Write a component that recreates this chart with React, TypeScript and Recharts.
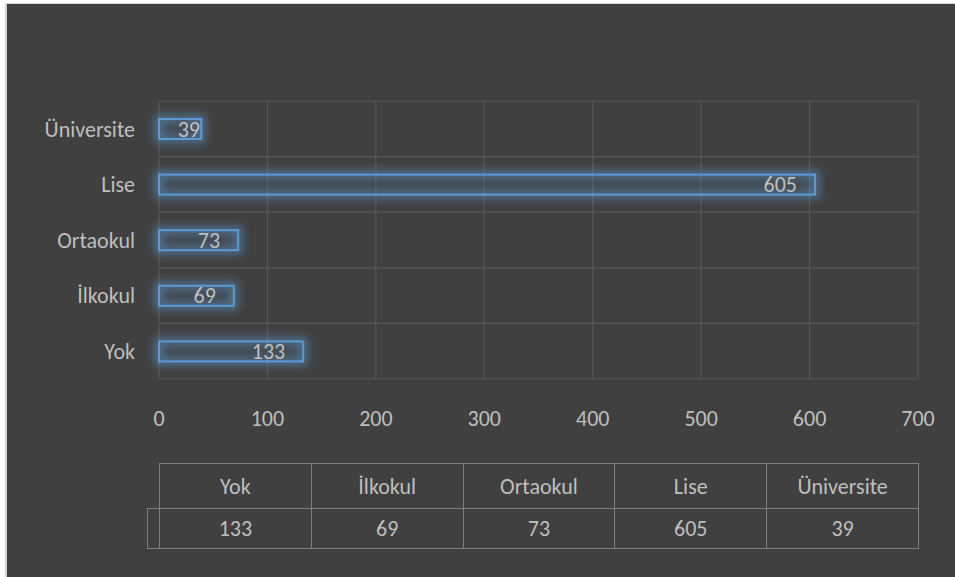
import { Bar, BarChart, CartesianGrid, LabelList, XAxis, YAxis } from "recharts";

const categories = ["Yok", "İlkokul", "Ortaokul", "Lise", "Üniversite"];
const counts = [133, 69, 73, 605, 39];
const xTicks = [0, 100, 200, 300, 400, 500, 600, 700];

const data = categories.map((name, i) => ({ name, value: counts[i] }));

const FONT = "Carlito, Calibri, Lato, sans-serif";
const FONT_SIZE = 22;
const TEXT = "#bfbfbf";
const BLUE = "#5b9bd5";
const GRID = "#575757";
const TABLE_LINE = "#808080";

// outlined bar with a soft blue glow, like the office "glow" effect
function GlowBar(props: any) {
  const { x, y, width, height } = props;
  if (!width || width <= 0) return null;
  return (
    <g>
      <defs>
        <filter id="barGlow" x="-40%" y="-200%" width="180%" height="500%">
          <feGaussianBlur stdDeviation="4" />
        </filter>
      </defs>
      <rect
        x={x}
        y={y}
        width={width}
        height={height}
        fill="none"
        stroke={BLUE}
        strokeWidth={9}
        strokeOpacity={0.5}
        filter="url(#barGlow)"
      />
      <rect
        x={x}
        y={y}
        width={width}
        height={height}
        fill={BLUE}
        fillOpacity={0.06}
        stroke={BLUE}
        strokeWidth={2}
      />
    </g>
  );
}

function EndLabel(props: any) {
  const { x, y, width, height, value } = props;
  const textW = String(value).length * 12;
  const end = Math.max(x + width - 18, x + 17 + textW);
  return (
    <text
      x={end}
      y={y + height / 2}
      textAnchor="end"
      dominantBaseline="central"
      fill={TEXT}
      fontSize={FONT_SIZE}
      fontFamily={FONT}
    >
      {value}
    </text>
  );
}

const cellStyle = {
  position: "absolute" as const,
  boxSizing: "border-box" as const,
  display: "flex",
  alignItems: "center",
  justifyContent: "center",
  color: TEXT,
  fontSize: FONT_SIZE,
  fontFamily: FONT,
};

function DataTable() {
  const left = 159;
  const top = 463;
  const colW = 759 / categories.length;
  const headH = 45;
  const rowH = 40;
  return (
    <div style={{ position: "absolute", left: 0, top: 0 }}>
      {categories.map((name, i) => (
        <div
          key={`h-${name}`}
          style={{
            ...cellStyle,
            left: left + i * colW,
            top,
            width: colW + 1,
            height: headH + 1,
            border: `1px solid ${TABLE_LINE}`,
          }}
        >
          {name}
        </div>
      ))}
      <div
        style={{
          ...cellStyle,
          left: left - 12,
          top: top + headH,
          width: 13,
          height: rowH + 1,
          border: `1px solid ${TABLE_LINE}`,
        }}
      />
      {counts.map((v, i) => (
        <div
          key={`v-${i}`}
          style={{
            ...cellStyle,
            left: left + i * colW,
            top: top + headH,
            width: colW + 1,
            height: rowH + 1,
            border: `1px solid ${TABLE_LINE}`,
          }}
        >
          {v}
        </div>
      ))}
    </div>
  );
}

export default function App() {
  const n = categories.length;
  return (
    <div
      style={{
        position: "absolute",
        left: 0,
        top: 0,
        width: 955,
        height: 577,
        background: "#ffffff",
        overflow: "hidden",
      }}
    >
      <div
        style={{
          position: "absolute",
          left: 5,
          top: 3,
          width: 950,
          height: 574,
          boxSizing: "border-box",
          borderLeft: "2px solid #d4d4d4",
          borderTop: "1px solid #d4d4d4",
          background: "#404040",
        }}
      />
      <div style={{ position: "absolute", left: 0, top: 0 }}>
        <BarChart
          width={955}
          height={440}
          data={data}
          layout="vertical"
          margin={{ top: 101, right: 37, bottom: 0, left: 0 }}
        >
          <CartesianGrid
            stroke={GRID}
            strokeWidth={1.2}
            horizontalCoordinatesGenerator={({ offset }: any) =>
              Array.from(
                { length: n + 1 },
                (_, i) => offset.top + (offset.height * i) / n,
              )
            }
          />
          <XAxis
            type="number"
            domain={[0, 700]}
            ticks={xTicks}
            interval={0}
            axisLine={false}
            tickLine={false}
            tickSize={0}
            tickMargin={31}
            height={61}
            tick={{ fill: TEXT, fontSize: FONT_SIZE, fontFamily: FONT }}
          />
          <YAxis
            type="category"
            dataKey="name"
            reversed
            width={159}
            axisLine={false}
            tickLine={false}
            tickSize={0}
            tickMargin={24}
            tick={{ fill: TEXT, fontSize: FONT_SIZE, fontFamily: FONT }}
          />
          <Bar
            dataKey="value"
            barSize={20}
            shape={GlowBar}
            isAnimationActive={false}
          >
            <LabelList dataKey="value" content={EndLabel} />
          </Bar>
        </BarChart>
      </div>
      <DataTable />
    </div>
  );
}
